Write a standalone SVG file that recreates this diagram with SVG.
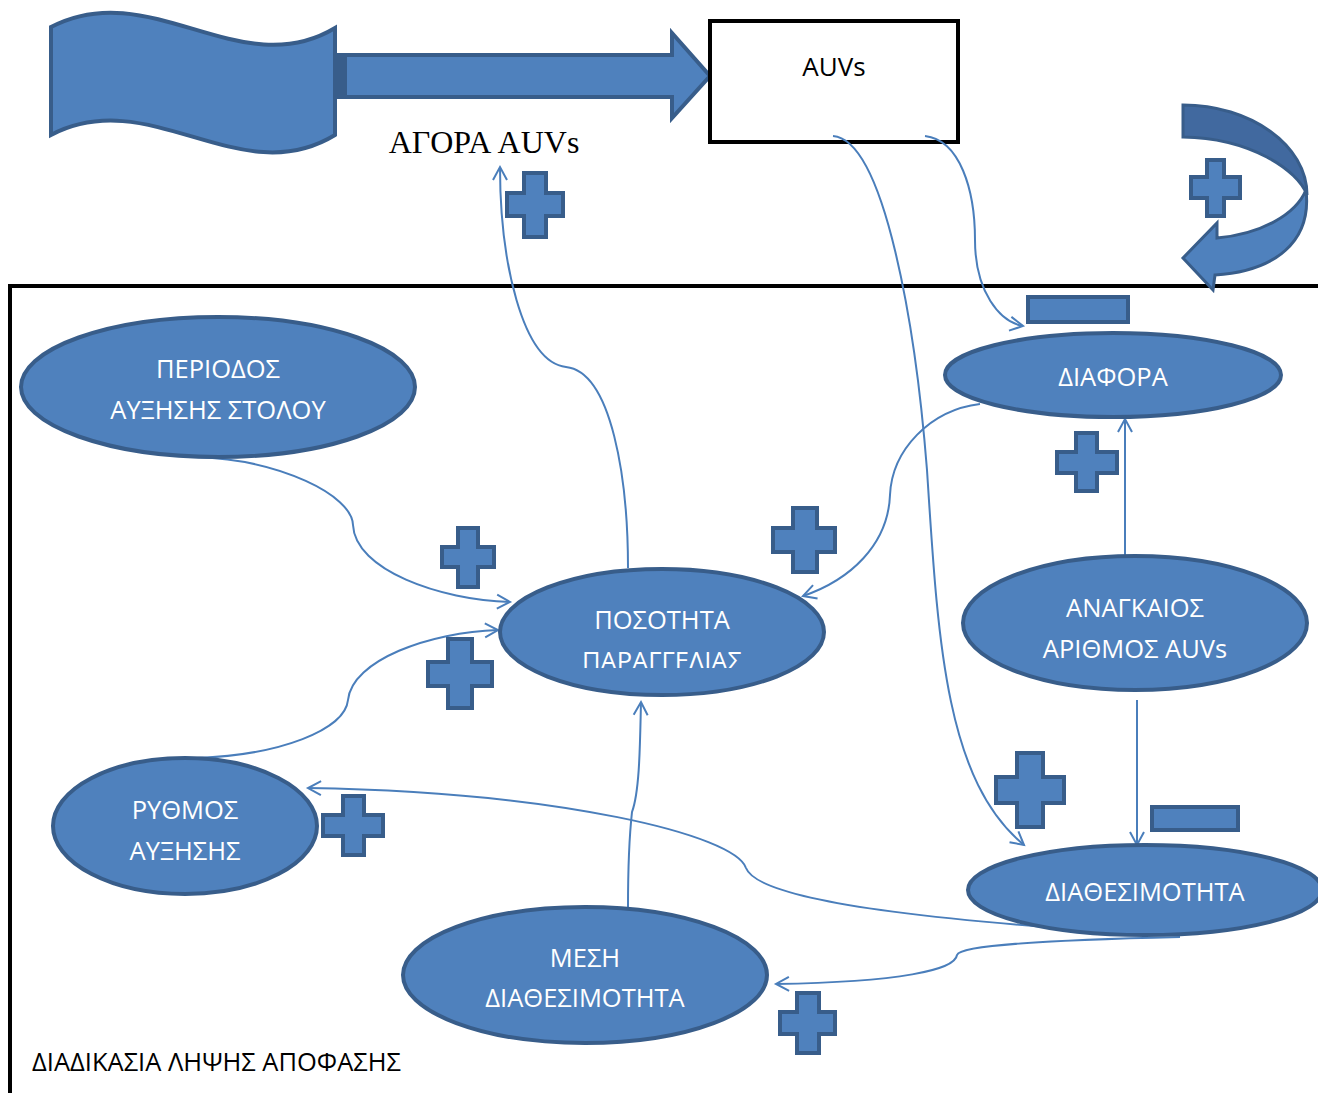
<svg xmlns="http://www.w3.org/2000/svg" width="1318" height="1093" viewBox="0 0 1318 1093">
  <style>
    .shape { fill: #4f81bd; stroke: #385d8a; stroke-width: 4; stroke-linejoin: miter; }
    .node ellipse { fill: #4f81bd; stroke: #385d8a; stroke-width: 4; }
    .label { font-family: "Open Sans", "Liberation Sans", sans-serif; font-size: 25.5px; fill: #ffffff; text-anchor: middle; }
    .dark { font-family: "Open Sans", "Liberation Sans", sans-serif; font-size: 25.5px; fill: #000000; }
    .link { fill: none; stroke: #4a7ebb; stroke-width: 2; }
    .frame { fill: none; stroke: #000000; stroke-width: 4; }
  </style>
  <defs>
    <marker id="open" markerUnits="userSpaceOnUse" markerWidth="30" markerHeight="30" viewBox="-15 -15 30 30" refX="0" refY="0" orient="auto" overflow="visible">
      <path d="M-13,-7 L0,0 L-13,7" fill="none" stroke="#4a7ebb" stroke-width="2"/>
    </marker>
    <clipPath id="clipOrder">
      <rect x="480" y="560" width="360" height="108"/>
    </clipPath>
  </defs>

  <rect width="1318" height="1093" fill="#ffffff"/>

  <!-- decision-process frame -->
  <path class="frame" d="M10,1093 V286 H1318"/>

  <!-- market source: wavy banner and block arrow -->
  <g id="market">
    <path class="shape" d="M51,27 C150,-25 240,85 335,28 L335,135 C240,193 150,83 51,135 Z"/>
    <path class="shape" d="M337,55 L672,55 L672,33 L710,76 L672,118 L672,97 L337,97 Z"/>
    <rect x="337" y="55" width="10" height="42" fill="#385d8a"/>
    <text x="484" y="153" font-family="'Liberation Serif', 'Times New Roman', serif" font-size="32" text-anchor="middle" fill="#000000">ΑΓΟΡΑ AUVs</text>
  </g>

  <!-- AUVs stock box -->
  <g id="auvs">
    <rect x="710" y="21" width="248" height="121" fill="#ffffff" stroke="#000000" stroke-width="4"/>
    <text x="834" y="76" font-family="'Open Sans', 'Liberation Sans', sans-serif" font-size="26" text-anchor="middle" fill="#000000">AUVs</text>
  </g>

  <!-- reinforcing loop arrow -->
  <g id="loop">
    <path d="M1183,105 C1250,105 1307,145 1307,195 C1298,170 1250,138 1183,137 Z" fill="#41699f" stroke="#385d8a" stroke-width="3"/>
    <path d="M1306,190 C1312,242 1275,271 1215,275 L1213,290 L1183,258 L1217,223 L1217,238 C1262,234 1296,214 1306,190 Z" fill="#4f81bd" stroke="#385d8a" stroke-width="3"/>
  </g>

  <!-- connectors -->
  <g id="connectors">
    <path class="link" marker-end="url(#open)" d="M628,568 C628,480 612,372 566,367 C522,362 500,260 500,167"/>
    <path class="link" marker-end="url(#open)" d="M925,136 C960,140 975,190 975,240 C975,292 1000,322 1023,326"/>
    <path class="link" marker-end="url(#open)" d="M833,136 C885,140 916,330 927,470 C938,640 945,780 1024,845"/>
    <path class="link" marker-end="url(#open)" d="M980,404 C930,410 892,450 890,495 C888,545 850,580 803,596"/>
    <path class="link" marker-end="url(#open)" d="M1125,556 L1125,419"/>
    <path class="link" marker-end="url(#open)" d="M1137,700 L1137,845"/>
    <path class="link" marker-end="url(#open)" d="M197,457 C280,460 352,495 353,525 C355,570 440,600 510,602"/>
    <path class="link" marker-end="url(#open)" d="M197,758 C280,755 345,730 348,700 C352,660 430,632 498,630"/>
    <path class="link" marker-end="url(#open)" d="M628,907 C628,860 630,830 632,812 C640,790 640,740 641,702"/>
    <path class="link" marker-end="url(#open)" d="M1178,935 C980,925 760,905 746,868 C735,835 560,792 308,788"/>
    <path class="link" marker-end="url(#open)" d="M1180,937 C1050,940 960,945 957,955 C955,970 900,982 776,984"/>
  </g>

  <!-- polarity signs -->
  <g id="signs">
    <path class="shape" d="M524,173 H546 V193 H563 V216 H546 V237 H524 V216 H507 V193 H524 Z"/>
    <path class="shape" d="M1207,160 H1224 V177 H1240 V198 H1224 V216 H1207 V198 H1191 V177 H1207 Z"/>
    <path class="shape" d="M458,528 H478 V547 H494 V567 H478 V587 H458 V567 H442 V547 H458 Z"/>
    <path class="shape" d="M793,508 H817 V528 H835 V552 H817 V572 H793 V552 H773 V528 H793 Z"/>
    <path class="shape" d="M448,639 H472 V662 H492 V686 H472 V708 H448 V686 H428 V662 H448 Z"/>
    <path class="shape" d="M1076,433 H1097 V452 H1117 V473 H1097 V491 H1076 V473 H1057 V452 H1076 Z"/>
    <path class="shape" d="M343,796 H364 V815 H383 V836 H364 V855 H343 V836 H323 V815 H343 Z"/>
    <path class="shape" d="M1017,753 H1043 V777 H1064 V803 H1043 V827 H1017 V803 H996 V777 H1017 Z"/>
    <path class="shape" d="M797,993 H819 V1012 H835 V1034 H819 V1053 H797 V1034 H780 V1012 H797 Z"/>
    <rect class="shape" x="1028" y="297" width="100" height="25"/>
    <rect class="shape" x="1152" y="807" width="86" height="23"/>
  </g>

  <!-- variables -->
  <g id="fleet-growth-period" class="node">
    <ellipse cx="218" cy="387" rx="197" ry="70"/>
    <text class="label" x="218" y="378">ΠΕΡΙΟΔΟΣ</text>
    <text class="label" x="218" y="419">ΑΥΞΗΣΗΣ ΣΤΟΛΟΥ</text>
  </g>

  <g id="order-quantity" class="node">
    <ellipse cx="662" cy="632" rx="162" ry="63"/>
    <g clip-path="url(#clipOrder)">
      <text class="label" x="662" y="629">ΠΟΣΟΤΗΤΑ</text>
      <text class="label" x="662" y="670">ΠΑΡΑΓΓΕΛΙΑΣ</text>
    </g>
  </g>

  <g id="difference" class="node">
    <ellipse cx="1113" cy="375" rx="168" ry="42"/>
    <text class="label" x="1113" y="386">ΔΙΑΦΟΡΑ</text>
  </g>

  <g id="required-auvs" class="node">
    <ellipse cx="1135" cy="623" rx="172" ry="67"/>
    <text class="label" x="1135" y="617">ΑΝΑΓΚΑΙΟΣ</text>
    <text class="label" x="1135" y="658">ΑΡΙΘΜΟΣ AUVs</text>
  </g>

  <g id="availability" class="node">
    <ellipse cx="1145" cy="890" rx="177" ry="45"/>
    <text class="label" x="1145" y="901">ΔΙΑΘΕΣΙΜΟΤΗΤΑ</text>
  </g>

  <g id="growth-rate" class="node">
    <ellipse cx="185" cy="826" rx="132" ry="68"/>
    <text class="label" x="185" y="819">ΡΥΘΜΟΣ</text>
    <text class="label" x="185" y="860">ΑΥΞΗΣΗΣ</text>
  </g>

  <g id="mean-availability" class="node">
    <ellipse cx="585" cy="975" rx="182" ry="68"/>
    <text class="label" x="585" y="967">ΜΕΣΗ</text>
    <text class="label" x="585" y="1007">ΔΙΑΘΕΣΙΜΟΤΗΤΑ</text>
  </g>

  <text class="dark" x="32" y="1071">ΔΙΑΔΙΚΑΣΙΑ ΛΗΨΗΣ ΑΠΟΦΑΣΗΣ</text>
</svg>
